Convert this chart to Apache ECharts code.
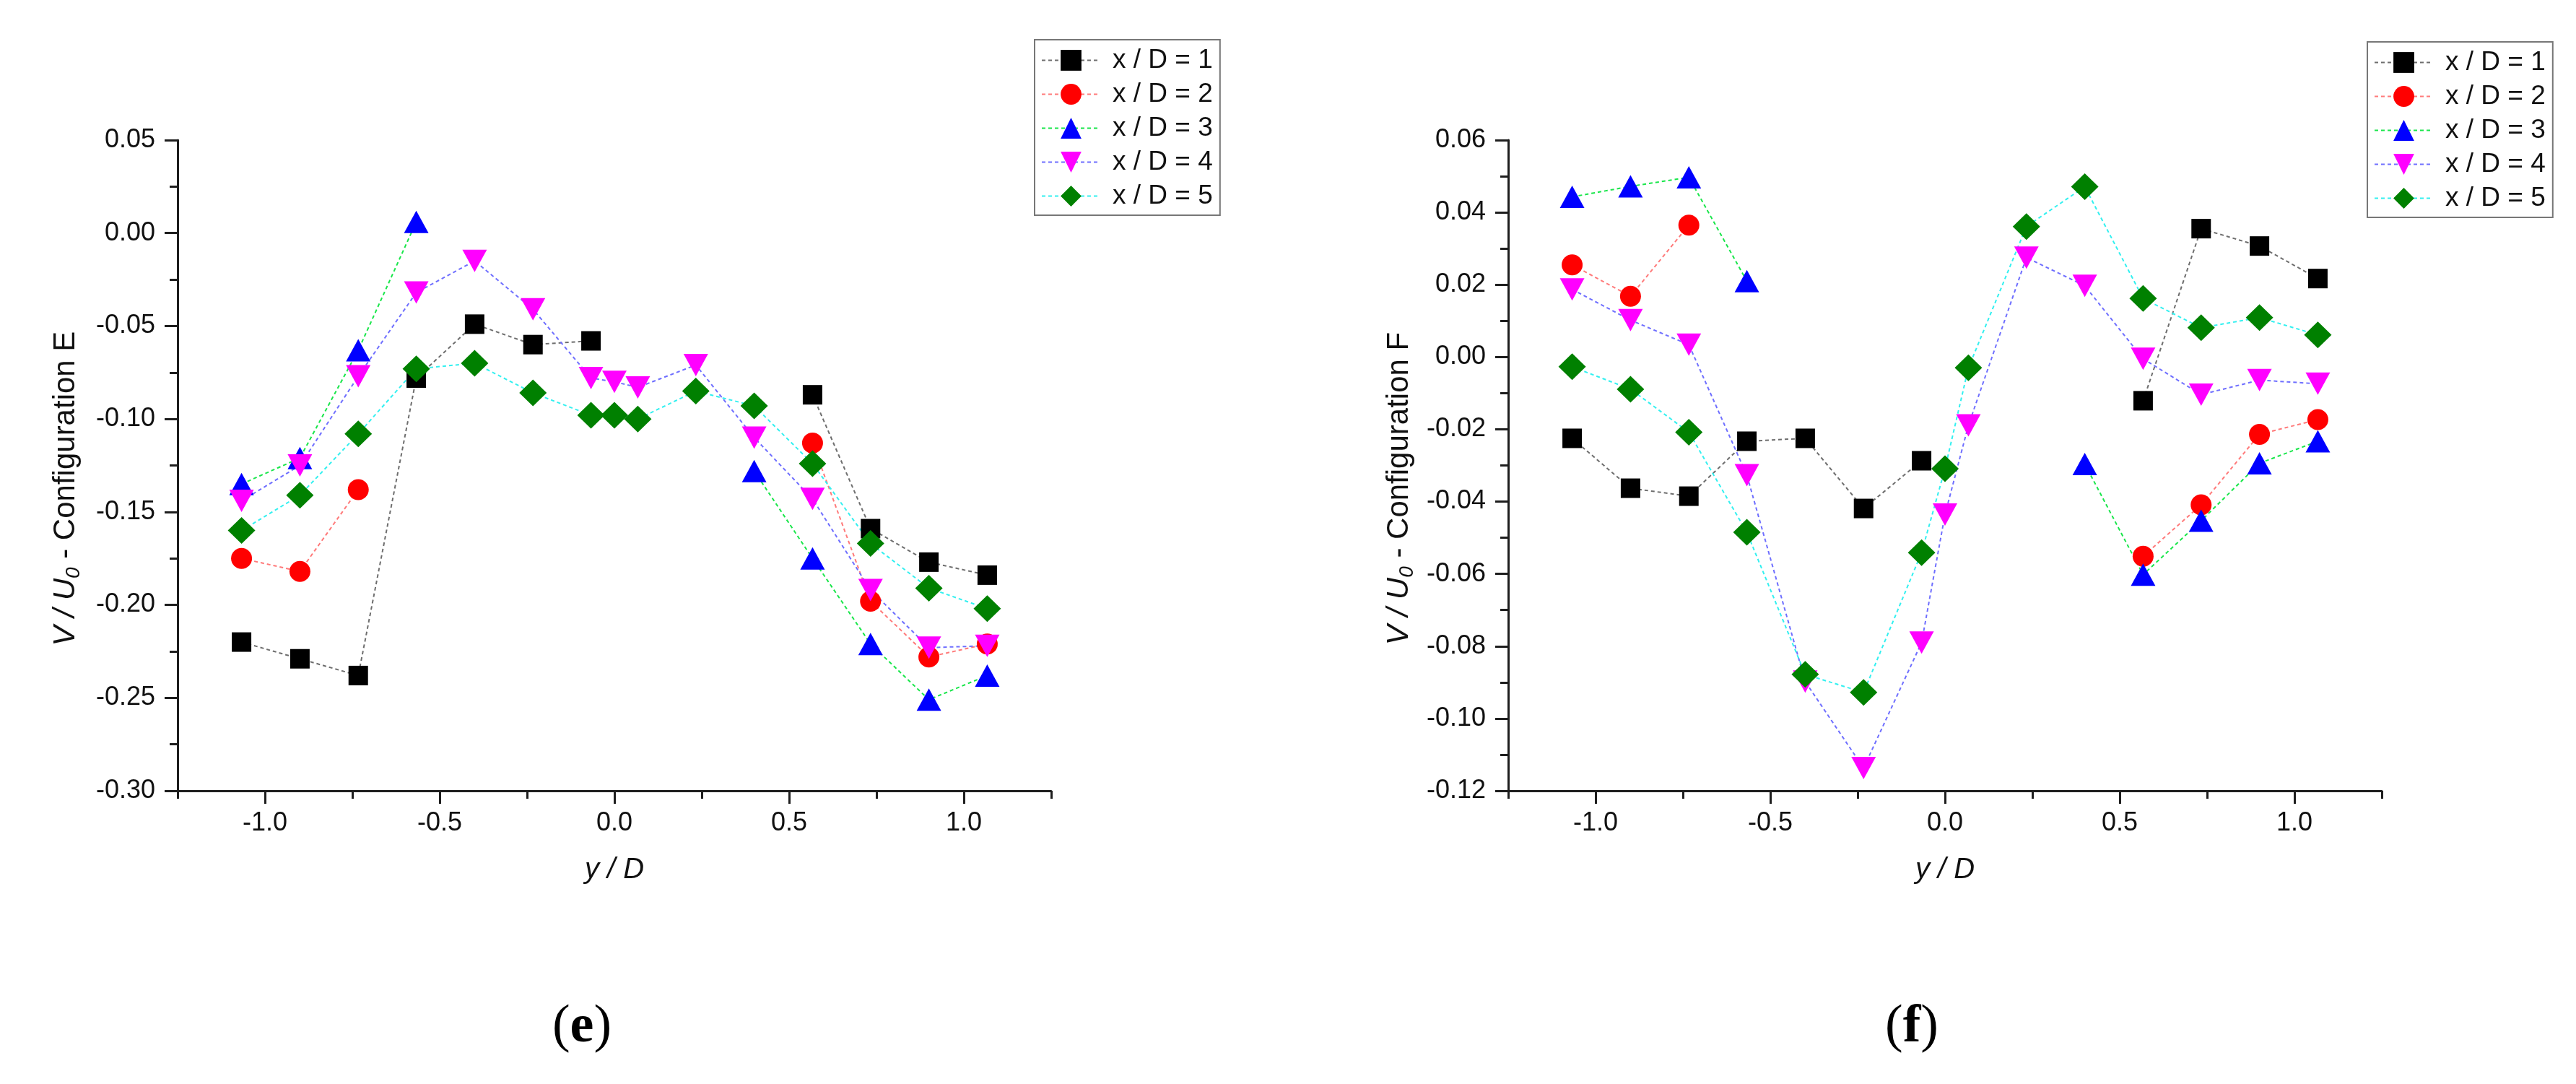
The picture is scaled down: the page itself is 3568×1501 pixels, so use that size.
<!DOCTYPE html>
<html>
<head>
<meta charset="utf-8">
<title>V / U0 - Configuration E, F</title>
<script src="https://cdn.jsdelivr.net/npm/echarts@6.0.0/dist/echarts.min.js"></script>
<style>
	html, body { margin: 0; padding: 0; background: #ffffff; }
	#chart { width: 3568px; height: 1501px; }
</style>
</head>
<body>
<div id="chart"></div>
<script>
	// measuring stations, y / D
	var yD = [-1.067, -0.9, -0.733, -0.567, -0.4, -0.233, -0.067, 0, 0.067, 0.233, 0.4, 0.567, 0.733, 0.9, 1.067];
	var names = ['x / D = 1', 'x / D = 2', 'x / D = 3', 'x / D = 4', 'x / D = 5'];

	// configuration E (null = no measurement)
	var e1 = [-0.220, -0.229, -0.238, -0.078, -0.049, -0.060, -0.058, null, null, null, null, -0.087, -0.159, -0.177, -0.184];
	var e2 = [-0.175, -0.182, -0.138, null, null, null, null, null, null, null, null, -0.113, -0.198, -0.228, -0.221];
	var e3 = [-0.135, -0.121, -0.063, 0.006, null, null, null, null, null, null, -0.128, -0.175, -0.221, -0.251, -0.238];
	var e4 = [-0.144, -0.125, -0.077, -0.032, -0.015, -0.041, -0.078, -0.080, -0.083, -0.071, -0.110, -0.143, -0.192, -0.223, -0.222];
	var e5 = [-0.160, -0.141, -0.108, -0.073, -0.070, -0.086, -0.098, -0.098, -0.100, -0.085, -0.093, -0.124, -0.167, -0.191, -0.202];

	// configuration F
	var f1 = [-0.0225, -0.0363, -0.0385, -0.0233, -0.0225, -0.0419, -0.0287, null, null, null, null, -0.0121, 0.0355, 0.0307, 0.0217];
	var f2 = [0.0255, 0.0168, 0.0365, null, null, null, null, null, null, null, null, -0.0551, -0.0409, -0.0214, -0.0173];
	var f3 = [0.0443, 0.0472, 0.0497, 0.0210, null, null, null, null, null, null, -0.0296, -0.0602, -0.0453, -0.0294, -0.0233];
	var f4 = [0.0187, 0.0102, 0.0034, -0.0327, -0.0898, -0.1137, -0.0790, -0.0436, -0.0189, 0.0275, 0.0197, -0.0005, -0.0104, -0.0064, -0.0074];
	var f5 = [-0.0027, -0.0089, -0.0208, -0.0485, -0.0878, -0.0928, -0.0541, -0.0309, -0.0030, 0.0361, 0.0471, 0.0162, 0.0081, 0.0109, 0.0061];

	// tick labels
	var xMajor = [-1.0, -0.5, 0.0, 0.5, 1.0];
	var xMinor = [-1.25, -0.75, -0.25, 0.25, 0.75, 1.25];
	var yTicksE = [-0.30, -0.25, -0.20, -0.15, -0.10, -0.05, 0.00, 0.05];
	var yTicksF = [-0.12, -0.10, -0.08, -0.06, -0.04, -0.02, 0.00, 0.02, 0.04, 0.06];

	var FONT = '"Liberation Sans", Arial, sans-serif';
	var SERIF = '"Liberation Serif", "Times New Roman", serif';
	var AXIS = '#1e1e1e', TEXT = '#111111';

	var markers = ['rect', 'circle', 'triangle', 'path://M0,0L10,0L5,10Z', 'diamond'];
	var markerSizes = [27, 29, [34, 31], [34, 31], [38, 37]];
	var markerColors = ['#000000', '#ff0000', '#0000ff', '#ff00ff', '#008000'];
	var lineColors = ['#6e6e6e', '#ff7a7a', '#19e64a', '#6f6fff', '#33f0f0'];

	var grids = [
		{ left: 246, top: 194, width: 1210, height: 901 },
		{ left: 2089, top: 194, width: 1210, height: 901 }
	];

	function pairs(vals) {
		var out = [];
		for (var i = 0; i < yD.length; i++) {
			out.push([yD[i], vals[i] === null ? '-' : vals[i]]);
		};
		return out;
	};

	function makeSeries(sets, g) {
		var list = [];
		for (var i = 0; i < sets.length; i++) {
			list.push({
				type: 'line',
				name: names[i],
				xAxisIndex: g * 2,
				yAxisIndex: g,
				data: pairs(sets[i]),
				symbol: markers[i],
				symbolSize: markerSizes[i],
				showAllSymbol: true,
				connectNulls: false,
				itemStyle: { color: markerColors[i] },
				lineStyle: { color: lineColors[i], width: 2, type: [5, 4] },
				emphasis: { disabled: true }
			});
		};
		return list;
	};

	function fmt(d) {
		return function (v) {
			if (Math.abs(v) < 1e-9) v = 0;
			return v.toFixed(d);
		};
	};

	function makeXAxes(g) {
		var lo = xMinor[0], hi = xMinor[xMinor.length - 1];
		return [{
			type: 'value',
			gridIndex: g,
			position: 'bottom',
			min: lo,
			max: hi,
			axisLine: { show: true, onZero: false, lineStyle: { color: AXIS, width: 3 } },
			axisTick: { show: true, customValues: xMajor, length: 18, lineStyle: { color: AXIS, width: 3 } },
			axisLabel: {
				customValues: xMajor,
				margin: 27,
				fontSize: 36,
				fontFamily: FONT,
				color: TEXT,
				formatter: fmt(1)
			},
			splitLine: { show: false },
			name: 'y / D',
			nameLocation: 'middle',
			nameGap: 90,
			nameTextStyle: { fontSize: 40, fontStyle: 'italic', fontFamily: FONT, color: TEXT }
		}, {
			// minor ticks only
			type: 'value',
			gridIndex: g,
			position: 'bottom',
			min: lo,
			max: hi,
			axisLine: { show: false, onZero: false },
			axisTick: { show: true, customValues: xMinor, length: 11, lineStyle: { color: AXIS, width: 3 } },
			axisLabel: { show: false },
			splitLine: { show: false }
		}];
	};

	function makeYAxis(g, ticks, letter, gap) {
		var step = Math.round((ticks[1] - ticks[0]) * 1000) / 1000;
		return {
			type: 'value',
			gridIndex: g,
			min: ticks[0],
			max: ticks[ticks.length - 1],
			interval: step,
			axisLine: { show: true, onZero: false, lineStyle: { color: AXIS, width: 3 } },
			axisTick: { show: true, length: 18, lineStyle: { color: AXIS, width: 3 } },
			minorTick: { show: true, splitNumber: 2, length: 11, lineStyle: { color: AXIS, width: 3 } },
			splitLine: { show: false },
			axisLabel: { margin: 31, fontSize: 36, fontFamily: FONT, color: TEXT, formatter: fmt(2) },
			name: '{i|V / U}{s|0}{n| - Configuration ' + letter + '}',
			nameLocation: 'middle',
			nameRotate: 90,
			nameGap: gap,
			nameTextStyle: {
				color: TEXT,
				fontFamily: FONT,
				fontSize: 42,
				padding: [0, 64, 0, 0],
				rich: {
					i: { fontSize: 42, fontStyle: 'italic', fontFamily: FONT, color: TEXT, lineHeight: 50 },
					s: { fontSize: 28, fontStyle: 'italic', fontFamily: FONT, color: TEXT, lineHeight: 28, verticalAlign: 'bottom' },
					n: { fontSize: 42, fontFamily: FONT, color: TEXT, lineHeight: 50 }
				}
			}
		};
	};

	function makeLegend(left, top) {
		return {
			orient: 'vertical',
			left: left,
			top: top,
			data: names,
			selectedMode: false,
			itemWidth: 81,
			itemHeight: 36,
			itemGap: 10,
			padding: [10, 10, 8, 9],
			borderColor: '#777777',
			borderWidth: 2,
			backgroundColor: '#ffffff',
			textStyle: { fontSize: 37, fontFamily: FONT, color: TEXT, padding: [0, 0, 0, 12] }
		};
	};

	var panelRich = {
		p: { fontSize: 74, fontFamily: SERIF, color: '#000000' },
		b: { fontSize: 74, fontFamily: SERIF, fontWeight: 'bold', color: '#000000' }
	};

	var chart = echarts.init(document.getElementById('chart'));
	var option = {
		backgroundColor: '#ffffff',
		animation: false,
		grid: grids,
		xAxis: makeXAxes(0).concat(makeXAxes(1)),
		yAxis: [
			makeYAxis(0, yTicksE, 'E', 130),
			makeYAxis(1, yTicksF, 'F', 126)
		],
		legend: [makeLegend(1433, 55), makeLegend(3279, 58)],
		graphic: [{
			type: 'text',
			x: 806,
			y: 1423,
			style: { text: '{p|(}{b|e}{p|)}', rich: panelRich, align: 'center', verticalAlign: 'middle' }
		}, {
			type: 'text',
			x: 2648,
			y: 1423,
			style: { text: '{p|(}{b|f}{p|)}', rich: panelRich, align: 'center', verticalAlign: 'middle' }
		}],
		series: makeSeries([e1, e2, e3, e4, e5], 0).concat(makeSeries([f1, f2, f3, f4, f5], 1))
	};
	chart.setOption(option);
</script>
</body>
</html>
